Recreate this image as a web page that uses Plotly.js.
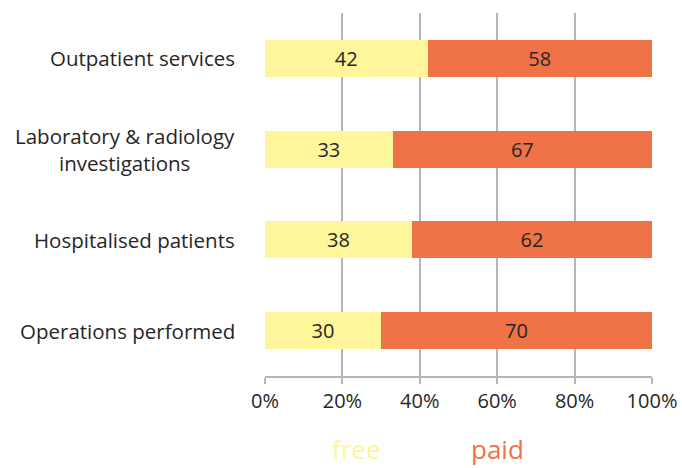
<!DOCTYPE html>
<html>
<head>
<meta charset="utf-8">
<script src="https://cdn.plot.ly/plotly-3.0.1.min.js"></script>
<style>
  html, body { margin: 0; padding: 0; background: #fff; }
  #chart { width: 682px; height: 468px; }
</style>
</head>
<body>
<div id="chart"></div>
<script>
// Share of services provided free vs paid (percent)
const categories = [
    "Outpatient services",
    "Laboratory & radiology<br>investigations",
    "Hospitalised patients",
    "Operations performed"
];
const freeValues = [42, 33, 38, 30];
const paidValues = [58, 67, 62, 70];
const seriesNames = ["free", "paid"];
const tickVals = [0, 20, 40, 60, 80, 100];
const tickText = ["0%", "20%", "40%", "60%", "80%", "100%"];

const FONT = "Open Sans, Noto Sans, sans-serif";
const COLORS = { free: "#FFF59B", paid: "#F07247" };
const GRID = '#b5b5b5';

function barTrace(name, values) {
    return {
        type: 'bar',
        orientation: 'h',
        name: name,
        x: values,
        y: categories,
        marker: { color: COLORS[name], line: { width: 0 } },
        text: values.map(String),
        textposition: 'inside',
        insidetextanchor: 'middle',
        constraintext: 'none',
        textfont: { family: FONT, size: 20, color: '#262626' },
        hoverinfo: 'skip',
        width: 0.41
    };
}

const traces = [barTrace(seriesNames[0], freeValues), barTrace(seriesNames[1], paidValues)];

// Category labels drawn as annotations so that wrapped lines stay centred
const catAnnotations = categories.map(c => ({
    xref: 'paper', yref: 'y',
    x: -0.072, y: c,
    xanchor: 'right', yanchor: 'middle',
    text: c, align: 'center', showarrow: false,
    font: { family: FONT, size: 20.5, color: '#262626' }
}));

// Legend as coloured words under the axis
const legendX = [0.237, 0.6];
const legendAnnotations = seriesNames.map((n, i) => ({
    xref: 'paper', yref: 'paper',
    x: legendX[i], y: -0.2,
    xanchor: 'center', yanchor: 'middle',
    text: n, showarrow: false, borderpad: 0,
    font: { family: FONT, size: 26, color: COLORS[n] }
}));

const layout = {
    width: 682,
    height: 468,
    margin: { l: 265, r: 30, t: 13, b: 92 },
    barmode: 'stack',
    showlegend: false,
    paper_bgcolor: '#fff',
    plot_bgcolor: '#fff',
    font: { family: FONT, size: 20, color: '#262626' },
    xaxis: {
        range: [0, 100],
        tickvals: tickVals,
        ticktext: tickText,
        showgrid: true,
        gridcolor: GRID,
        gridwidth: 2,
        zeroline: false,
        showline: true,
        linecolor: GRID,
        linewidth: 2,
        ticks: 'outside',
        ticklen: 6,
        tickwidth: 2,
        tickcolor: GRID,
        tickfont: { family: FONT, size: 20, color: '#262626' },
        fixedrange: true
    },
    yaxis: {
        range: [3.5, -0.5],
        categoryorder: 'array',
        categoryarray: categories,
        showticklabels: false,
        showgrid: false,
        zeroline: false,
        showline: false,
        fixedrange: true
    },
    annotations: catAnnotations.concat(legendAnnotations)
};

Plotly.newPlot('chart', traces, layout, { displayModeBar: false, staticPlot: true });
</script>
</body>
</html>
